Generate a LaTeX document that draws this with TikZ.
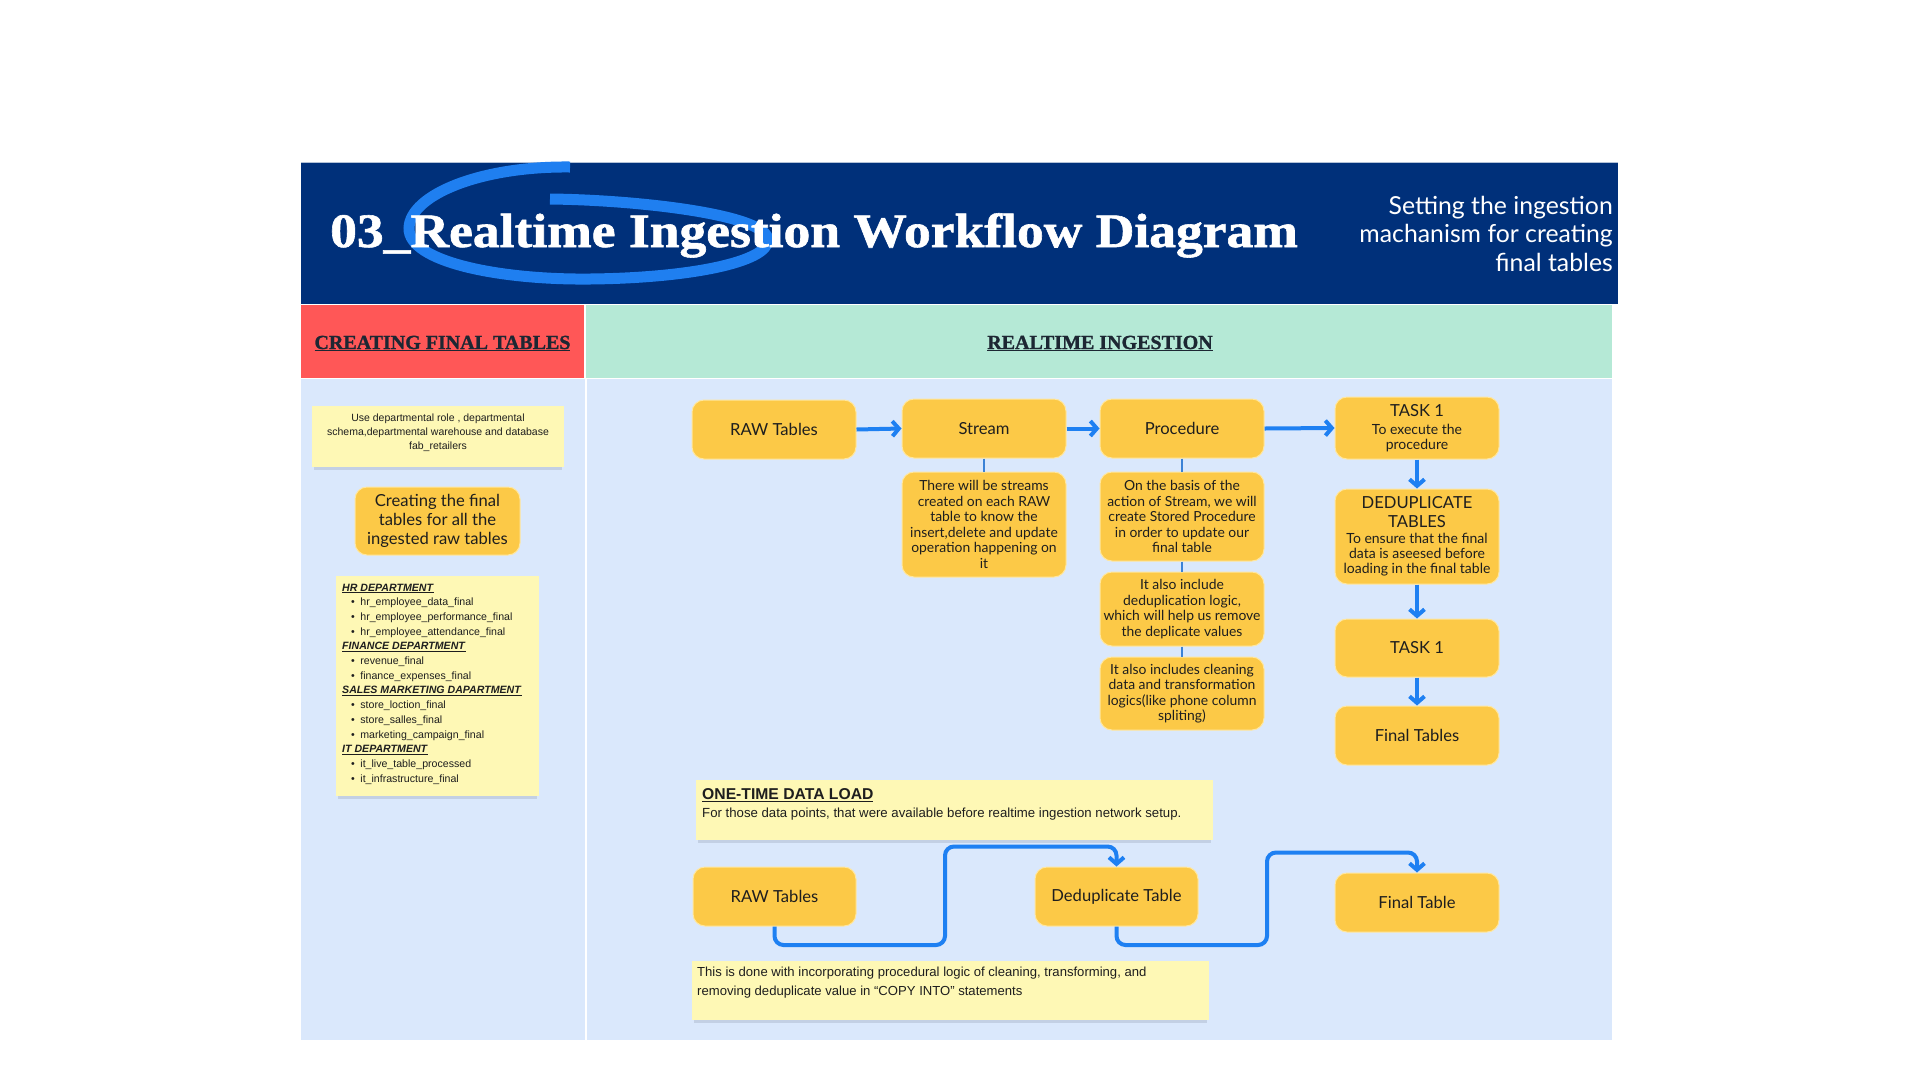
\documentclass[tikz,border=0pt]{standalone}
\usepackage{fontspec}
\setmainfont{Lato}
\newfontfamily\arialf{Liberation Sans}
\newfontfamily\seriff[FakeBold=1.2]{Liberation Serif Bold}
\usetikzlibrary{arrows.meta}
\newcommand{\smalltxt}{\fontsize{14}{15}\selectfont}
\definecolor{navy}{HTML}{00307A}
\definecolor{swoosh}{HTML}{1F7FF0}
\definecolor{redpanel}{HTML}{FF5757}
\definecolor{greenpanel}{HTML}{B5E9D6}
\definecolor{bodyblue}{HTML}{DAE8FC}
\definecolor{notefill}{HTML}{FEF8B5}
\definecolor{noteshadow}{HTML}{C3D0E4}
\definecolor{boxfill}{HTML}{FCC947}
\definecolor{boxedge}{HTML}{FFE7A0}
\definecolor{flowblue}{HTML}{1E80F2}
\definecolor{thinblue}{HTML}{3B82D6}
\definecolor{ink}{HTML}{1E1E1E}
\definecolor{titleink}{HTML}{1D2733}
\tikzset{
  box/.style={draw=boxedge, line width=1pt, fill=boxfill, rounded corners=12pt,
    minimum width=164pt, minimum height=59pt, inner sep=0pt, align=center,
    text=ink, font=\fontsize{16.6}{19}\selectfont},
  descbox/.style={box, font=\fontsize{13.9}{15.5}\selectfont},
  flow/.style={draw=flowblue, line width=4pt, -{Straight Barb[length=6.5pt,width=15pt]}},
  thinlink/.style={draw=thinblue, line width=1.5pt},
  notetext/.style={inner sep=0pt, text=ink, font=\arialf\fontsize{10.5}{14}\selectfont},
}
\begin{document}
\begin{tikzpicture}[x=1pt,y=-1pt]
\useasboundingbox (0,0) rectangle (1920,1080);
\fill[white] (0,0) rectangle (1920,1080);

% header
\fill[navy] (301,162) rectangle (1618,304);
\draw[draw=white!70!navy, line width=0.8pt] (301,162) -- (1618,162);
\draw[swoosh, line width=11pt] (570,167) .. controls (480,166) and (410,195) .. (409,228)
   .. controls (408,262) and (500,280) .. (590,279)
   .. controls (690,278) and (768,262) .. (768,240)
   .. controls (768,215) and (640,200) .. (550,199);
\node[anchor=base west, inner sep=0pt, text=white, font=\seriff\fontsize{48}{50}\selectfont] (title) at (330,247)
  {\scalebox{1.115}[1]{03\_Realtime Ingestion Workflow Diagram}};
\node[anchor=east, inner sep=0pt, align=right, text=white, font=\fontsize{24.8}{28.5}\selectfont] (subtitle) at (1613,233.5)
  {Setting the ingestion\\machanism for creating\\final tables};

% section bands
\fill[redpanel] (301,305) rectangle (584,378);
\fill[greenpanel] (586,305) rectangle (1612,378);
\node[anchor=base, inner sep=0pt, text=titleink, font=\seriff\fontsize{20}{22}\selectfont] (lefttitle) at (442.5,349)
  {\underline{CREATING FINAL TABLES}};
\node[anchor=base, inner sep=0pt, text=titleink, font=\seriff\fontsize{20}{22}\selectfont] (righttitle) at (1100,349)
  {\underline{REALTIME INGESTION}};

% body
\fill[bodyblue] (301,379) rectangle (585,1040);
\fill[bodyblue] (587,379) rectangle (1612,1040);

% left column
\fill[noteshadow] (314,466) rectangle (562,470);
\node[fill=notefill, minimum width=252pt, minimum height=61pt, inner sep=0pt] (note1) at (438,436.5) {};
\node[notetext, align=center] (note1text) at (438,433)
  {Use departmental role , departmental\\schema,departmental warehouse and database\\fab\_retailers};

\node[box, minimum width=165pt, minimum height=68pt] (creating) at (437.5,521)
  {Creating the final\\tables for all the\\ingested raw tables};

\fill[noteshadow] (338,795) rectangle (537,799);
\node[fill=notefill, minimum width=203pt, minimum height=220pt, inner sep=0pt] (listnote) at (437.5,686) {};
\node[notetext, anchor=west, align=left, font=\arialf\fontsize{10.6}{14.7}\selectfont] (listtext) at (342,684)
  {\underline{\textbf{\textit{HR DEPARTMENT}}}\\
   \hspace*{9pt}•\hspace{5.5pt}hr\_employee\_data\_final\\
   \hspace*{9pt}•\hspace{5.5pt}hr\_employee\_performance\_final\\
   \hspace*{9pt}•\hspace{5.5pt}hr\_employee\_attendance\_final\\
   \underline{\textbf{\textit{FINANCE DEPARTMENT}}}\\
   \hspace*{9pt}•\hspace{5.5pt}revenue\_final\\
   \hspace*{9pt}•\hspace{5.5pt}finance\_expenses\_final\\
   \underline{\textbf{\textit{SALES MARKETING DAPARTMENT}}}\\
   \hspace*{9pt}•\hspace{5.5pt}store\_loction\_final\\
   \hspace*{9pt}•\hspace{5.5pt}store\_salles\_final\\
   \hspace*{9pt}•\hspace{5.5pt}marketing\_campaign\_final\\
   \underline{\textbf{\textit{IT DEPARTMENT}}}\\
   \hspace*{9pt}•\hspace{5.5pt}it\_live\_table\_processed\\
   \hspace*{9pt}•\hspace{5.5pt}it\_infrastructure\_final};

% realtime flow
\node[box] (raw) at (774,429.5) {RAW Tables};
\node[box] (stream) at (984,428.5) {Stream};
\node[box] (proc) at (1182,428.5) {Procedure};
\node[box, minimum height=62pt] (task) at (1417,428)
  {TASK 1\\[-1pt]\smalltxt To execute the\\[-4pt]\smalltxt procedure};
\node[descbox, minimum height=105pt] (sdesc) at (984,524.5)
  {There will be streams\\created on each RAW\\table to know the\\insert,delete and update\\operation happening on\\it};
\node[descbox, minimum height=89pt] (pd1) at (1182,516.5)
  {On the basis of the\\action of Stream, we will\\create Stored Procedure\\in order to update our\\final table};
\node[descbox, minimum height=74pt] (pd2) at (1182,609)
  {It also include\\deduplication logic,\\which will help us remove\\the deplicate values};
\node[descbox, minimum height=73pt] (pd3) at (1182,693.5)
  {It also includes cleaning\\data and transformation\\logics(like phone column\\spliting)};
\node[box, minimum height=95pt] (dedup) at (1417,536.5)
  {DEDUPLICATE\\TABLES\\[-3pt]\smalltxt To ensure that the final\\[-4pt]\smalltxt data is aseesed before\\[-4pt]\smalltxt loading in the final table};
\node[box, minimum height=58pt] (task2) at (1417,648) {TASK 1};
\node[box] (final) at (1417,735.5) {Final Tables};

\draw[flow] (raw.east) -- (stream.west);
\draw[flow] (stream.east) -- (proc.west);
\draw[flow] (proc.east) -- (task.west);
\draw[flow] (task.south) -- (dedup.north);
\draw[flow] (dedup.south) -- (task2.north);
\draw[flow] (task2.south) -- (final.north);
\draw[thinlink] (stream.south) -- (sdesc.north);
\draw[thinlink] (proc.south) -- (pd1.north);
\draw[thinlink] (pd1.south) -- (pd2.north);
\draw[thinlink] (pd2.south) -- (pd3.north);

% one-time data load
\fill[noteshadow] (698,839) rectangle (1211,843);
\node[fill=notefill, minimum width=517pt, minimum height=60pt, inner sep=0pt] (onenote) at (954.5,810) {};
\node[notetext, anchor=west, font=\arialf\bfseries\fontsize{15.7}{17}\selectfont] (onetitle) at (702,795)
  {\underline{ONE-TIME DATA LOAD}};
\node[notetext, anchor=west, font=\arialf\fontsize{13.2}{15}\selectfont] (onetext) at (702,814)
  {For those data points, that were available before realtime ingestion network setup.};

\node[box, minimum width=163pt] (raw2) at (774.5,896.5) {RAW Tables};
\node[box, minimum width=163pt] (dd) at (1116.5,896.5) {Deduplicate Table};
\node[box] (ft) at (1417,902.5) {Final Table};

\coordinate (c1) at (945,945);
\coordinate (c2) at (1267,945);
\draw[flow, rounded corners=9pt] (raw2.south) |- (c1) |- ([yshift=20pt]dd.north) -- (dd.north);
\draw[flow, rounded corners=9pt] (dd.south) |- (c2) |- ([yshift=20pt]ft.north) -- (ft.north);

\fill[noteshadow] (694,1019) rectangle (1207,1023);
\node[fill=notefill, minimum width=517pt, minimum height=59pt, inner sep=0pt] (botnote) at (950.5,990.5) {};
\node[notetext, anchor=west, align=left, font=\arialf\fontsize{13.1}{18.5}\selectfont] (bottext) at (697,982.5)
  {This is done with incorporating procedural logic of cleaning, transforming, and\\removing deduplicate value in “COPY INTO” statements};
\end{tikzpicture}
\end{document}
